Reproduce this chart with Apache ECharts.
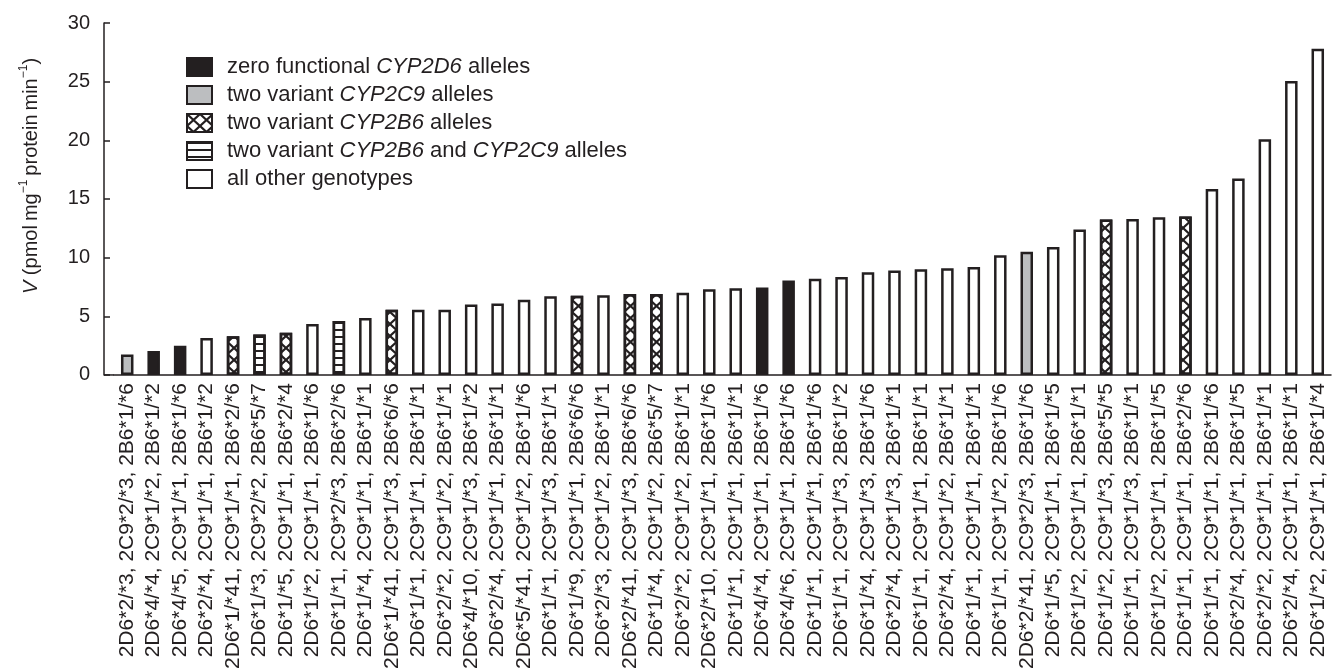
<!DOCTYPE html>
<html>
<head>
<meta charset="utf-8">
<script src="https://cdn.jsdelivr.net/npm/echarts@6/dist/echarts.min.js"></script>
<style>
  html, body { margin: 0; padding: 0; background: #fff; }
  #main { width: 1333px; height: 672px; }
</style>
</head>
<body>
<div id="main"></div>
<script>
// genotype of each liver sample (CYP2D6, CYP2C9, CYP2B6)
var categories = [
  '2D6*2/*3, 2C9*2/*3, 2B6*1/*6', '2D6*4/*4, 2C9*1/*2, 2B6*1/*2', '2D6*4/*5, 2C9*1/*1, 2B6*1/*6',
  '2D6*2/*4, 2C9*1/*1, 2B6*1/*2', '2D6*1/*41, 2C9*1/*1, 2B6*2/*6', '2D6*1/*3, 2C9*2/*2, 2B6*5/*7',
  '2D6*1/*5, 2C9*1/*1, 2B6*2/*4', '2D6*1/*2, 2C9*1/*1, 2B6*1/*6', '2D6*1/*1, 2C9*2/*3, 2B6*2/*6',
  '2D6*1/*4, 2C9*1/*1, 2B6*1/*1', '2D6*1/*41, 2C9*1/*3, 2B6*6/*6', '2D6*1/*1, 2C9*1/*1, 2B6*1/*1',
  '2D6*2/*2, 2C9*1/*2, 2B6*1/*1', '2D6*4/*10, 2C9*1/*3, 2B6*1/*2', '2D6*2/*4, 2C9*1/*1, 2B6*1/*1',
  '2D6*5/*41, 2C9*1/*2, 2B6*1/*6', '2D6*1/*1, 2C9*1/*3, 2B6*1/*1', '2D6*1/*9, 2C9*1/*1, 2B6*6/*6',
  '2D6*2/*3, 2C9*1/*2, 2B6*1/*1', '2D6*2/*41, 2C9*1/*3, 2B6*6/*6', '2D6*1/*4, 2C9*1/*2, 2B6*5/*7',
  '2D6*2/*2, 2C9*1/*2, 2B6*1/*1', '2D6*2/*10, 2C9*1/*1, 2B6*1/*6', '2D6*1/*1, 2C9*1/*1, 2B6*1/*1',
  '2D6*4/*4, 2C9*1/*1, 2B6*1/*6', '2D6*4/*6, 2C9*1/*1, 2B6*1/*6', '2D6*1/*1, 2C9*1/*1, 2B6*1/*6',
  '2D6*1/*1, 2C9*1/*3, 2B6*1/*2', '2D6*1/*4, 2C9*1/*3, 2B6*1/*6', '2D6*2/*4, 2C9*1/*3, 2B6*1/*1',
  '2D6*1/*1, 2C9*1/*1, 2B6*1/*1', '2D6*2/*4, 2C9*1/*2, 2B6*1/*1', '2D6*1/*1, 2C9*1/*1, 2B6*1/*1',
  '2D6*1/*1, 2C9*1/*2, 2B6*1/*6', '2D6*2/*41, 2C9*2/*3, 2B6*1/*6', '2D6*1/*5, 2C9*1/*1, 2B6*1/*5',
  '2D6*1/*2, 2C9*1/*1, 2B6*1/*1', '2D6*1/*2, 2C9*1/*3, 2B6*5/*5', '2D6*1/*1, 2C9*1/*3, 2B6*1/*1',
  '2D6*1/*2, 2C9*1/*1, 2B6*1/*5', '2D6*1/*1, 2C9*1/*1, 2B6*2/*6', '2D6*1/*1, 2C9*1/*1, 2B6*1/*6',
  '2D6*2/*4, 2C9*1/*1, 2B6*1/*5', '2D6*2/*2, 2C9*1/*1, 2B6*1/*1', '2D6*2/*4, 2C9*1/*1, 2B6*1/*1',
  '2D6*1/*2, 2C9*1/*1, 2B6*1/*4'
];

// V (pmol/mg protein/min)
var values = [
  1.75, 2.05, 2.5, 3.15, 3.3, 3.45, 3.6, 4.35, 4.6, 4.85,
  5.55, 5.55, 5.55, 6.0, 6.1, 6.4, 6.7, 6.75, 6.8, 6.9,
  6.9, 7.0, 7.3, 7.4, 7.45, 8.05, 8.2, 8.35, 8.75, 8.9,
  9.0, 9.1, 9.2, 10.2, 10.5, 10.9, 12.4, 13.25, 13.3, 13.45,
  13.5, 15.85, 16.75, 20.1, 25.05, 27.8
];

// which legend group each bar belongs to
var groups = [
  'c9', 'zero', 'zero', 'other', 'b6', 'both', 'b6', 'other', 'both', 'other',
  'b6', 'other', 'other', 'other', 'other', 'other', 'other', 'b6', 'other', 'b6',
  'b6', 'other', 'other', 'other', 'zero', 'zero', 'other', 'other', 'other', 'other',
  'other', 'other', 'other', 'other', 'c9', 'other', 'other', 'b6', 'other', 'other',
  'b6', 'other', 'other', 'other', 'other', 'other'
];

var groupKeys = ['zero', 'c9', 'b6', 'both', 'other'];
var groupNames = [
  'zero functional CYP2D6 alleles',
  'two variant CYP2C9 alleles',
  'two variant CYP2B6 alleles',
  'two variant CYP2B6 and CYP2C9 alleles',
  'all other genotypes'
];

var yTicks = [0, 5, 10, 15, 20, 25, 30];

var INK = '#231f20';
var FONT = "'Liberation Sans', Arial, Helvetica, sans-serif";

var crossDecal = {
  symbol: 'path://M0,0L1.6,0L13,10.4L13,12L11.4,12L0,1.6Z M13,0L13,1.6L1.6,12L0,12L0,10.4L11.4,0Z',
  symbolSize: 1,
  symbolKeepAspect: false,
  dashArrayX: [13, 0],
  dashArrayY: [12, 0],
  color: INK
};
var lineDecal = {
  symbol: 'rect',
  symbolSize: 1,
  dashArrayX: [1, 0],
  dashArrayY: [2, 5],
  color: INK
};

var styles = {
  zero: { color: INK, borderColor: INK, borderWidth: 2.5 },
  c9: { color: '#bcbec0', borderColor: INK, borderWidth: 2.5 },
  b6: { color: '#ffffff', borderColor: INK, borderWidth: 2.5, decal: crossDecal },
  both: { color: '#ffffff', borderColor: INK, borderWidth: 2.5, decal: lineDecal },
  other: { color: '#ffffff', borderColor: INK, borderWidth: 2.5 }
};

var series = groupKeys.map(function (g, k) {
  return {
    name: groupNames[k],
    type: 'bar',
    stack: 'v',
    barWidth: 12.5,
    itemStyle: styles[g],
    data: values.map(function (v, i) { return groups[i] === g ? v : '-'; })
  };
});

var legendRich = {
  n: { fontFamily: FONT, fontSize: 22, color: INK },
  i: { fontFamily: FONT, fontSize: 22, color: INK, fontStyle: 'italic' }
};

var gridLeft = 114;
var axisOffset = 10;

var myChart = echarts.init(document.getElementById('main'));
myChart.setOption({
  animation: false,
  textStyle: { fontFamily: FONT, color: INK },
  grid: { left: gridLeft, right: 2, top: 23, bottom: 297 },
  legend: {
    orient: 'vertical',
    left: 186,
    top: 56,
    padding: 0,
    itemWidth: 25,
    itemHeight: 18,
    itemGap: 6,
    selectedMode: false,
    icon: 'rect',
    data: groupNames,
    formatter: function (name) {
      return name.replace(/(CYP2\w\d)/g, '}{i|$1}{n|').replace(/^/, '{n|') + '}';
    },
    textStyle: { rich: legendRich, padding: [0, 0, 0, 10] }
  },
  xAxis: {
    type: 'category',
    data: categories,
    axisLine: { lineStyle: { color: INK, width: 1.5 } },
    axisTick: { show: false },
    axisLabel: {
      rotate: 90,
      interval: 0,
      margin: 8,
      fontSize: 21,
      color: INK,
      fontFamily: FONT
    }
  },
  yAxis: {
    type: 'value',
    min: 0,
    max: 30,
    interval: 5,
    offset: axisOffset,
    splitLine: { show: false },
    axisLine: { show: true, lineStyle: { color: INK, width: 1.5 } },
    axisTick: { show: true, inside: true, length: 6, lineStyle: { color: INK, width: 1.5 } },
    axisLabel: {
      margin: 14,
      fontSize: 20,
      color: INK,
      fontFamily: FONT,
      formatter: function (v) { return yTicks.indexOf(v) >= 0 ? String(v) : ''; }
    },
    name: '{i|V} (pmol\u2009mg{s|\u22121}\u2009protein\u2009min{s|\u22121})',
    nameLocation: 'middle',
    nameGap: 60,
    nameTextStyle: {
      fontSize: 20,
      color: INK,
      fontFamily: FONT,
      padding: [0, 0, 0, 46],
      rich: {
        i: { fontSize: 20, fontStyle: 'italic', fontFamily: FONT, color: INK },
        s: { fontSize: 12, fontFamily: FONT, color: INK, verticalAlign: 'top', lineHeight: 26 }
      }
    }
  },
  series: series
});

// extend the baseline to meet the offset y axis
var y0 = myChart.convertToPixel({ yAxisIndex: 0 }, 0);
myChart.setOption({
  graphic: [{
    type: 'line',
    shape: { x1: gridLeft - axisOffset, y1: y0, x2: gridLeft, y2: y0 },
    style: { stroke: INK, lineWidth: 1.5 }
  }]
});
</script>
</body>
</html>
